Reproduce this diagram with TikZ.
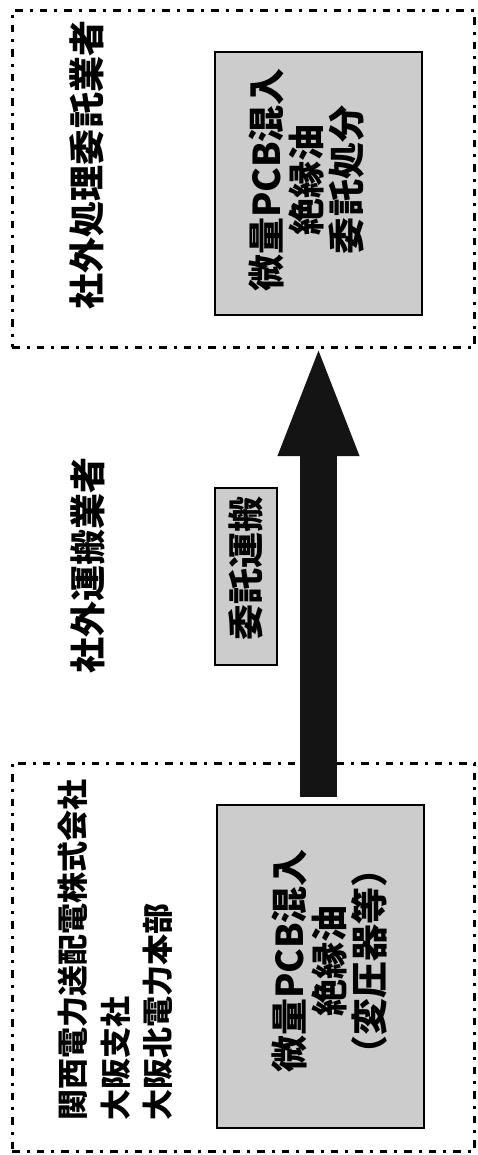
\documentclass[tikz,border=0pt]{standalone}
\usepackage{fontspec}
\newfontfamily\cjk{Noto Sans CJK JP}
\usetikzlibrary{arrows.meta}
\tikzset{
  outerbox/.style={draw=black, line width=3pt, dash pattern=on 7.5pt off 7pt on 3pt off 7pt, minimum width=462pt, inner sep=0pt},
  grayframe/.style={draw=black, line width=2.4pt, fill=black!20, inner sep=0pt},
  vtext/.style={rotate=90, inner sep=0pt, font=\cjk\bfseries},
  bigarrow/.style={draw=black!92, line width=37pt, -{Triangle[width=72pt,length=113pt]}}
}
\begin{document}
\begin{tikzpicture}[x=1pt,y=1pt]
\useasboundingbox (0,0) rectangle (478,-1155);
% outer dashed boxes
\node[outerbox, minimum height=336pt] (top) at (243,-179) {};
\node[outerbox, minimum height=388pt] (bot) at (243,-957) {};
% gray boxes
\node[grayframe, minimum width=207pt, minimum height=263pt] (topg) at (318.5,-183.5) {};
\node[grayframe, minimum width=207pt, minimum height=323pt] (botg) at (320.5,-966.5) {};
\node[grayframe, minimum width=62pt, minimum height=177pt] (midg) at (246,-576.5) {};
% texts
\node[vtext, font=\cjk\bfseries\fontsize{36}{40}\selectfont] (toplabel) at (87,-165) {社外処理委託業者};
\node[vtext, font=\cjk\bfseries\fontsize{36}{40}\selectfont] (midlabel) at (88,-565) {社外運搬業者};
\node[vtext, font=\cjk\bfseries\fontsize{37}{40}\selectfont, align=center] (toptext) at (307,-180) {微量PCB混入\\絶縁油\\委託処分};
\node[vtext, font=\cjk\bfseries\fontsize{37}{40}\selectfont, align=center] (bottext) at (330,-961) {微量PCB混入\\絶縁油\\（変圧器等）};
\node[vtext, font=\cjk\bfseries\fontsize{36}{40}\selectfont] (midtext) at (246,-568) {委託運搬};
\node[vtext, font=\cjk\bfseries\fontsize{31}{42.5}\selectfont, align=left, anchor=north west] (botlabel) at (58,-1121) {関西電力送配電株式会社\\大阪支社\\大阪北電力本部};
% arrow
\coordinate (arrS) at (318.5,-797);
\coordinate (arrE) at (318.5,-343);
\draw[bigarrow] (arrS) -- (arrE);
\end{tikzpicture}
\end{document}
